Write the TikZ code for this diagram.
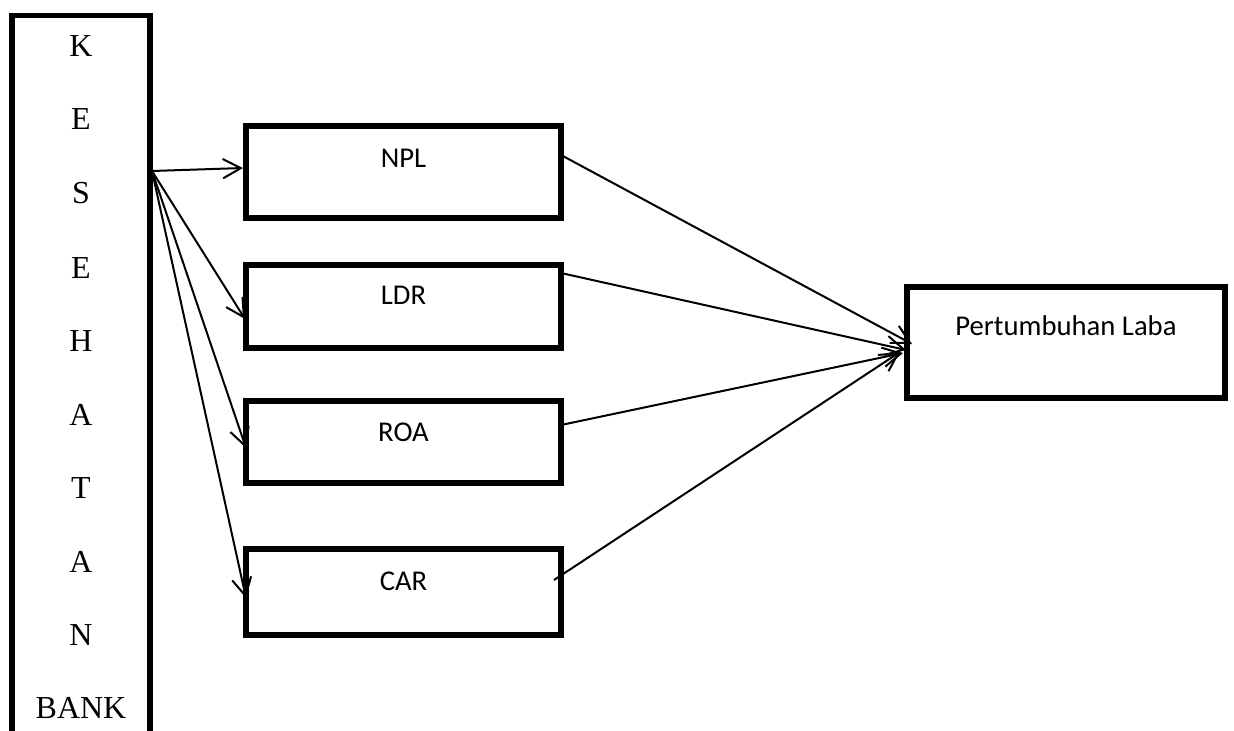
\documentclass[tikz,border=0pt]{standalone}
\usepackage{fontspec}
\setmainfont{Liberation Serif}
\newfontfamily\calibri{Carlito}
\usetikzlibrary{arrows.meta}
\begin{document}
\begin{tikzpicture}[x=0.75pt,y=-0.75pt,
  box/.style={draw, line width=3.8pt, inner sep=0pt, minimum width=236.25pt},
  lbl/.style={font=\calibri\fontsize{21.5}{26}\selectfont, anchor=base, inner sep=0pt},
  letter/.style={font=\fontsize{24}{28}\selectfont, anchor=base, inner sep=0pt},
  arr/.style={line width=1.5pt, -{Straight Barb[length=13.5pt,width=14.5pt,line width=1.5pt]}}]
\useasboundingbox (0,0) rectangle (1234,731);
% left tall box
\node[draw, line width=3.8pt, inner sep=0pt, minimum width=103.5pt, minimum height=560pt, anchor=north] (kes) at (81,13) {};
\foreach \t/\y [count=\i] in {K/57,E/130,S/204,E/278,H/351,A/425,T/498,A/572,N/645,BANK/718}
  \node[letter] (l\i) at (81,\y) {\t};
% variable boxes
\node[box, minimum height=69pt] (npl) at (403.5,172) {};
\node[box, minimum height=62.25pt] (ldr) at (403.5,306.5) {};
\node[box, minimum height=61.5pt] (roa) at (403.5,442) {};
\node[box, minimum height=64.5pt] (car) at (403.5,592) {};
\node[box, minimum width=238.5pt, minimum height=83.25pt] (pl) at (1066,342.5) {};
\node[lbl] (tnpl) at (403.5,167) {NPL};
\node[lbl] (tldr) at (403.5,304) {LDR};
\node[lbl] (troa) at (403.5,441) {ROA};
\node[lbl] (tcar) at (403.5,590) {CAR};
\node[lbl] (tpl) at (1066,335) {Pertumbuhan Laba};
% connector points
\coordinate (src) at (152,171);
\coordinate (inNPL) at (243,168);
\coordinate (inLDR) at (245,319);
\coordinate (inROA) at (246,448);
\coordinate (inCAR) at (246,598);
\coordinate (outNPL) at (561,155);
\coordinate (outLDR) at (561,273);
\coordinate (outROA) at (561,425);
\coordinate (outCAR) at (554,580);
\coordinate (inPL1) at (912,344);
\coordinate (inPL2) at (906,350);
\coordinate (inPL3) at (903,353);
\coordinate (inPL4) at (900,352);
\draw[arr] (src) -- (inNPL);
\draw[arr] (src) -- (inLDR);
\draw[arr] (src) -- (inROA);
\draw[arr] (src) -- (inCAR);
\draw[arr] (outNPL) -- (inPL1);
\draw[arr] (outLDR) -- (inPL2);
\draw[arr] (outROA) -- (inPL3);
\draw[arr] (outCAR) -- (inPL4);
\end{tikzpicture}
\end{document}
